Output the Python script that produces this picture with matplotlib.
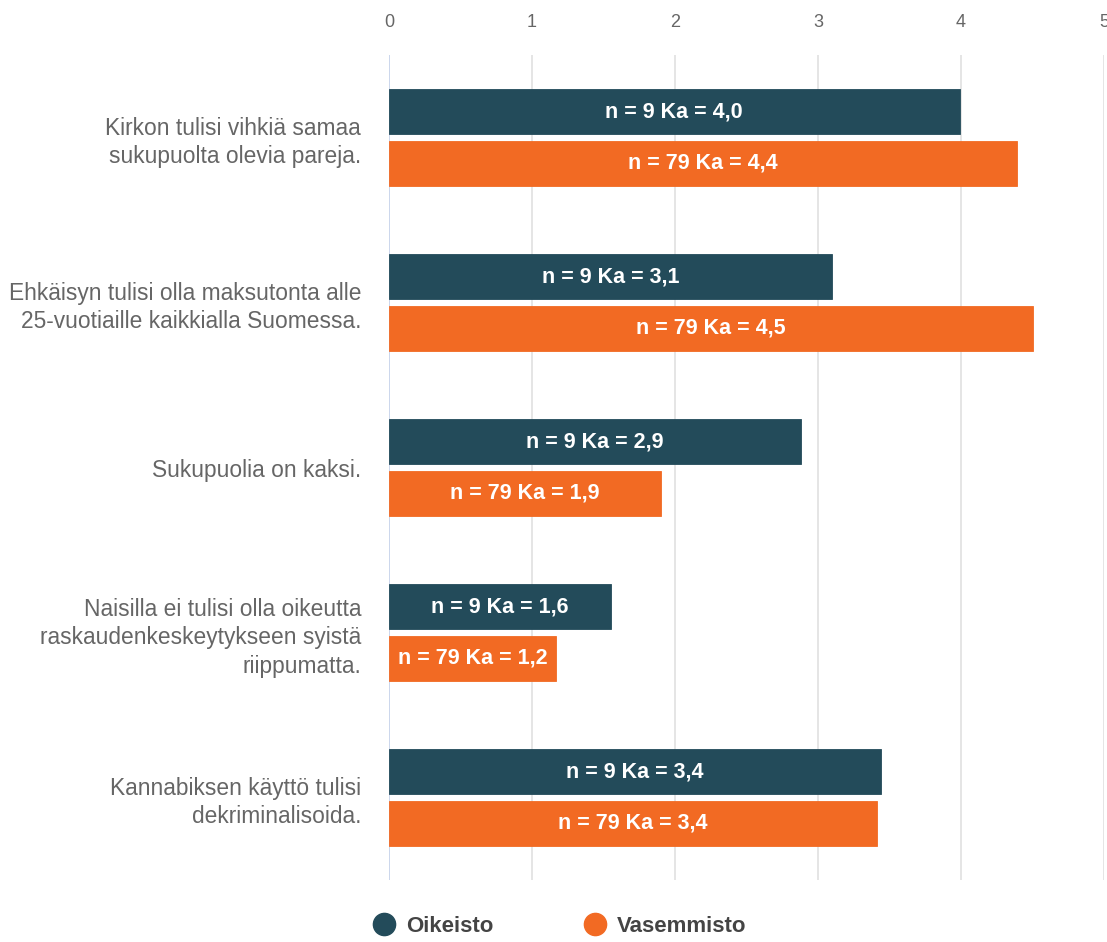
"""Grouped horizontal bar chart: Oikeisto vs Vasemmisto mean agreement."""

import matplotlib
matplotlib.use("Agg")
import matplotlib.pyplot as plt
from matplotlib.lines import Line2D
import numpy as np

plt.rcParams["font.family"] = ["Liberation Sans", "DejaVu Sans"]

statements = [
    "Kirkon tulisi vihkiä samaa\nsukupuolta olevia pareja.",
    "Ehkäisyn tulisi olla maksutonta alle\n25-vuotiaille kaikkialla Suomessa.",
    "Sukupuolia on kaksi.",
    "Naisilla ei tulisi olla oikeutta\nraskaudenkeskeytykseen syistä\nriippumatta.",
    "Kannabiksen käyttö tulisi\ndekriminalisoida.",
]
series = ["Oikeisto", "Vasemmisto"]
n_counts = [9, 79]
right_means = [3.99, 3.10, 2.88, 1.55, 3.44]
left_means = [4.39, 4.50, 1.90, 1.17, 3.41]
right_ka = ["4,0", "3,1", "2,9", "1,6", "3,4"]
left_ka = ["4,4", "4,5", "1,9", "1,2", "3,4"]
x_ticks = [0, 1, 2, 3, 4, 5]

DARK = "#234b5a"
ORANGE = "#f26a23"
TEXT = "#666666"

fig = plt.figure(figsize=(11.07, 9.42), dpi=100)
ax = fig.add_axes([0.3514, 0.0658, 0.6459, 0.8758])

y = np.arange(len(statements))
h = 0.273
off = 0.155

for vals, kas, n, color, sign in [
    (right_means, right_ka, n_counts[0], DARK, -1),
    (left_means, left_ka, n_counts[1], ORANGE, 1),
]:
    bars = ax.barh(y + sign * off, vals, height=h, color=color,
                   edgecolor=color, linewidth=0.6, zorder=3)
    for bar, ka in zip(bars, kas):
        ax.text(bar.get_width() / 2, bar.get_y() + bar.get_height() / 2,
                f"n = {n} Ka = {ka}", ha="center", va="center",
                color="white", fontsize=15.5, fontweight="bold", zorder=4)

ax.set_xlim(0, 5)
ax.set_ylim(len(statements) - 0.5, -0.5)
ax.set_xticks(x_ticks)
ax.set_xticklabels([str(t) for t in x_ticks], color=TEXT, fontsize=13)
ax.xaxis.tick_top()
ax.tick_params(axis="x", length=0, pad=17)
ax.set_yticks(y)
ax.set_yticklabels(statements, color=TEXT, fontsize=16.4, linespacing=1.3)
ax.tick_params(axis="y", length=0, pad=20)

for t in x_ticks:
    ax.axvline(t, color="#c7d3ea" if t == 0 else "#e3e3e3",
               linewidth=1.3, zorder=1)
for s in ax.spines.values():
    s.set_visible(False)

handles = [Line2D([], [], marker="o", linestyle="none", markersize=16,
                  markerfacecolor=c, markeredgecolor=c)
           for c in (DARK, ORANGE)]
leg = fig.legend(handles, series, loc="lower center",
                 bbox_to_anchor=(0.5024, -0.016), ncol=2, frameon=False,
                 handlelength=1.6, handletextpad=0.2, columnspacing=3.75,
                 prop={"size": 16, "weight": "bold"})
for txt in leg.get_texts():
    txt.set_color("#444444")

fig.savefig("out.png", dpi=100)
